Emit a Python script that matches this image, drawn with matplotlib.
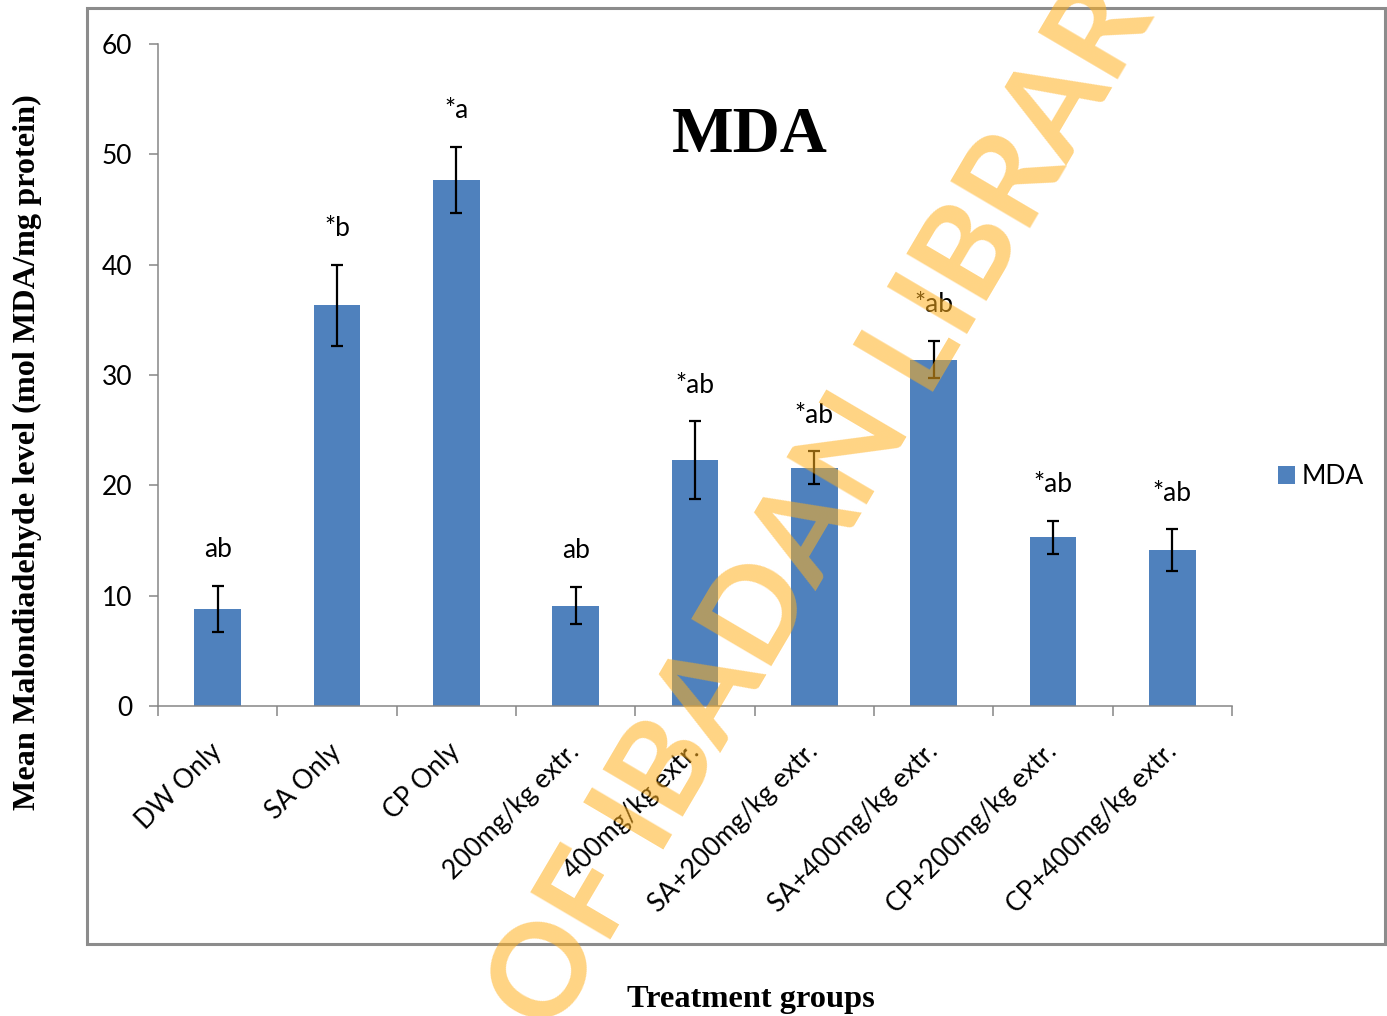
import numpy as np
import matplotlib
matplotlib.use("Agg")
import matplotlib.pyplot as plt
from matplotlib.patches import Rectangle
from matplotlib.textpath import TextPath
from matplotlib.font_manager import FontProperties

plt.rcParams['font.family'] = ['Lato', 'DejaVu Sans']

# MDA level per treatment group (mean and error), with significance letters
groups = ["DW Only", "SA Only", "CP Only", "200mg/kg extr.", "400mg/kg extr.",
          "SA+200mg/kg extr.", "SA+400mg/kg extr.", "CP+200mg/kg extr.",
          "CP+400mg/kg extr."]
mda_mean = [8.8, 36.3, 47.7, 9.1, 22.3, 21.6, 31.4, 15.3, 14.1]
mda_err = [2.1, 3.7, 3.0, 1.7, 3.5, 1.5, 1.7, 1.5, 1.9]
sig_letters = ["ab", "*b", "*a", "ab", "*ab", "*ab", "*ab", "*ab", "*ab"]
yticks = [0, 10, 20, 30, 40, 50, 60]

W, H = 1387, 1016
BLUE = '#4F81BD'
GREY = '#868686'
FS = 19


def fx(px):
    return px / W


def fy(py):
    return 1 - py / H


fig = plt.figure(figsize=(W / 100, H / 100), dpi=100)
ax = fig.add_axes([fx(158), fy(706), (1232 - 158) / W, (706 - 44) / H])

x = np.arange(len(groups))
ax.bar(x, mda_mean, width=0.39, color=BLUE, label='MDA', zorder=2)
ax.errorbar(x, mda_mean, yerr=mda_err, fmt='none', ecolor='black',
            elinewidth=1.6, capsize=4.5, capthick=1.6, zorder=3)
for xi, m, e, s in zip(x, mda_mean, mda_err, sig_letters):
    ax.annotate(s, (xi, m + e), xytext=(0, 26), textcoords='offset points',
                ha='center', va='center', fontsize=FS)

ax.set_xlim(-0.5, len(groups) - 0.5)
ax.set_ylim(0, 60)
for side in ['top', 'right']:
    ax.spines[side].set_visible(False)
for side in ['left', 'bottom']:
    ax.spines[side].set_color(GREY)
    ax.spines[side].set_linewidth(1.1)

ax.set_yticks(yticks)
ax.tick_params(axis='y', length=6.5, width=1.1, color=GREY, pad=12, labelsize=FS)
ax.set_xticks(x)
ax.set_xticklabels(groups, rotation=45, ha='right', va='center',
                   rotation_mode='anchor')
ax.tick_params(axis='x', which='major', length=0, pad=30, labelsize=FS)
ax.set_xticks(np.arange(-0.5, len(groups), 1), minor=True)
ax.tick_params(axis='x', which='minor', length=7, width=1.1, color=GREY)

ax.legend(loc='center left', bbox_to_anchor=(fx(1278), fy(477)),
          bbox_transform=fig.transFigure, frameon=False, fontsize=FS,
          handlelength=0.65, handleheight=0.65, handletextpad=0.25,
          borderpad=0, borderaxespad=0)

fig.text(fx(750), fy(136), "MDA", family='Liberation Serif', weight='bold',
         fontsize=47, ha='center', va='center')
fig.text(fx(27), fy(452), "Mean Malondiadehyde level (mol MDA/mg protein)",
         family='Liberation Serif', weight='bold', fontsize=23.2,
         rotation=90, ha='center', va='center')
fig.text(fx(751), fy(999), "Treatment groups", family='Liberation Serif',
         weight='bold', fontsize=23.3, ha='center', va='center')

# grey frame round the chart area
fig.add_artist(Rectangle((fx(87), fy(944)), (1385 - 87) / W, (944 - 8) / H,
                         transform=fig.transFigure, fill=False,
                         edgecolor='#8C8C8C', linewidth=2.2))

# library watermark, laid along a diagonal through the "I" of IBADAN
wm_text = "UNIVERSITY OF IBADAN LIBRARY"
wm_size = 93
wm_angle = 59.5
wm_prop = FontProperties(family='Lato', weight='bold', size=wm_size)
prefix = TextPath((0, 0), "UNIVERSITY OF I", size=wm_size, prop=wm_prop)
offset_px = (prefix.get_extents().xmax - 0.08 * wm_size) * 100 / 72
theta = np.radians(wm_angle)
ix, iy = 668, 842
sx = ix - offset_px * np.cos(theta)
sy = iy + offset_px * np.sin(theta)
fig.text(fx(sx), fy(sy), wm_text, fontproperties=wm_prop, color='#FFB01E',
         alpha=0.55, rotation=wm_angle, rotation_mode='anchor',
         ha='left', va='baseline', zorder=10)

fig.savefig("out.png", dpi=100)
